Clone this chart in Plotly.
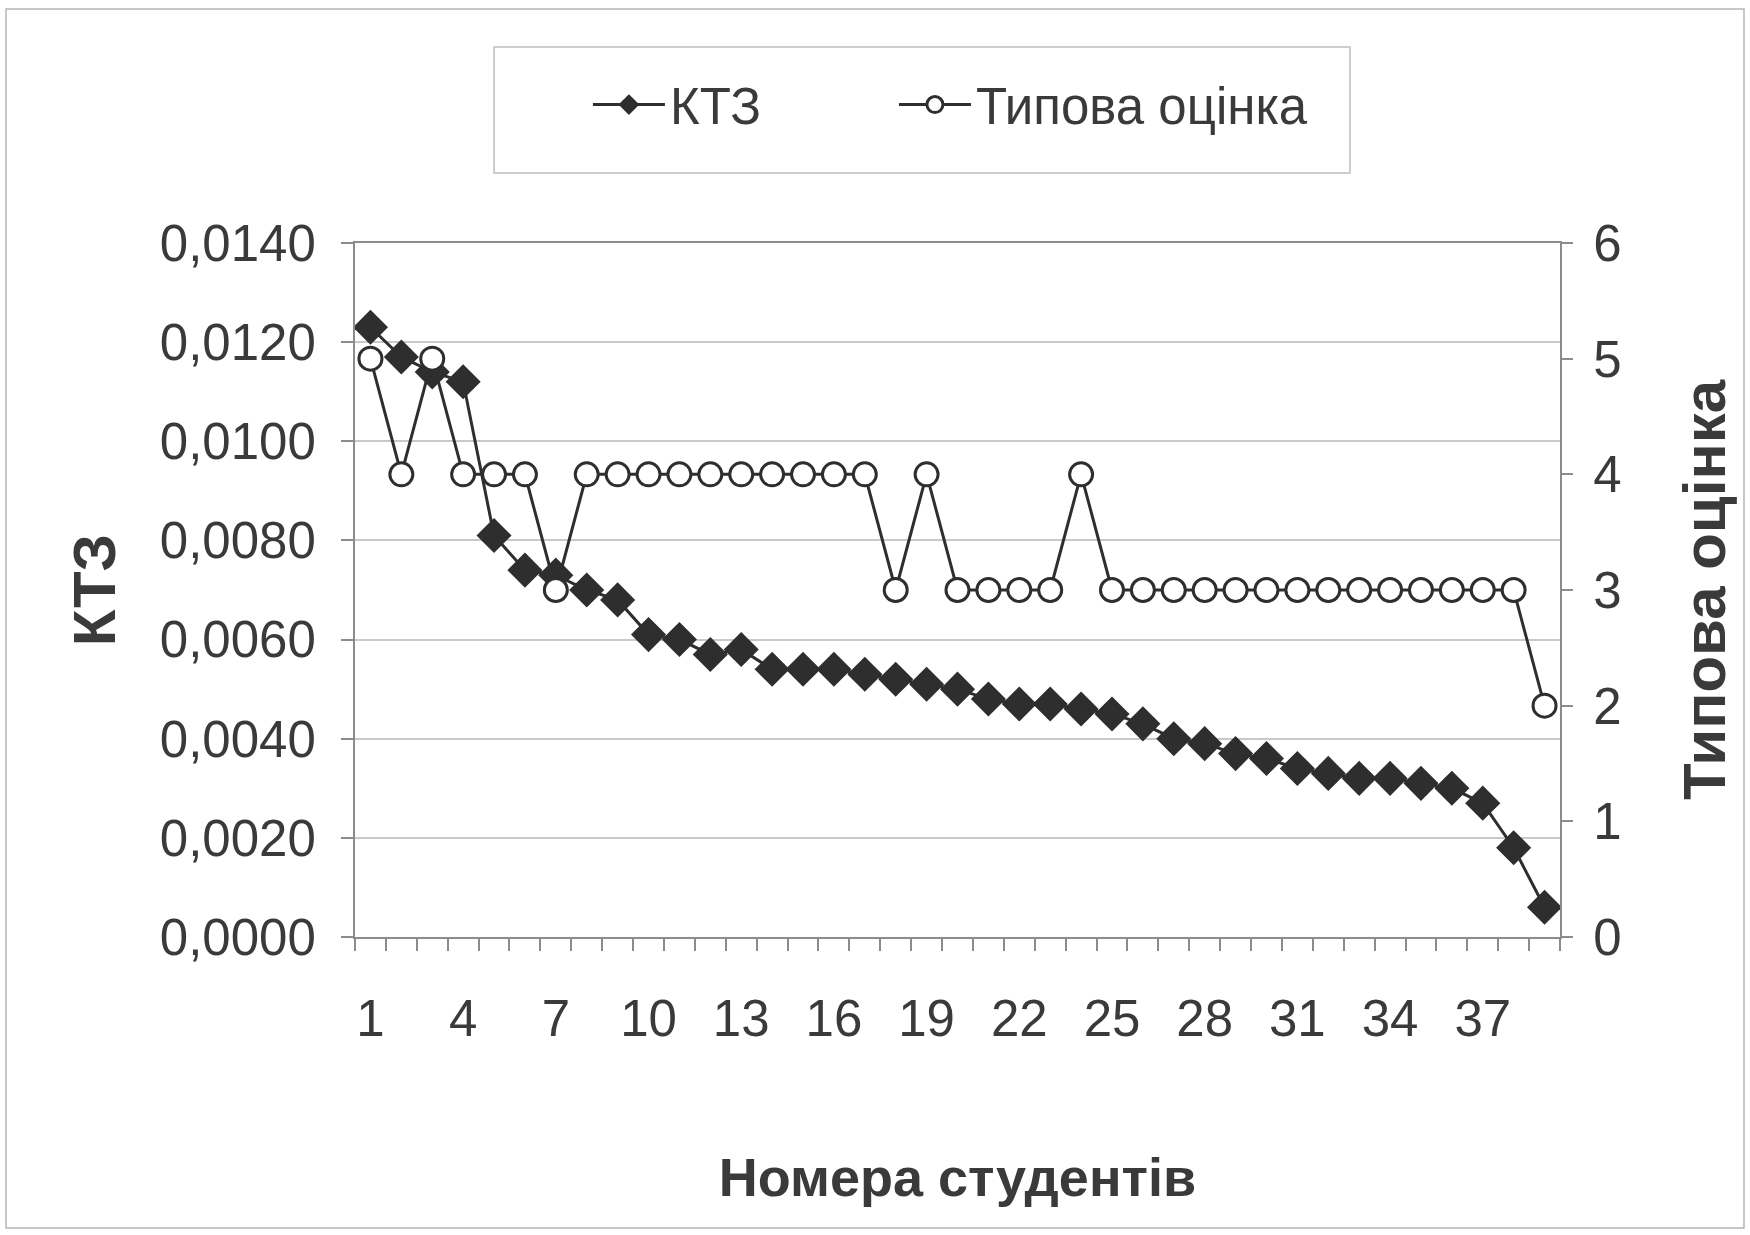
import plotly.graph_objects as go

# Student numbers (x categories)
students = list(range(1, 40))

# КТЗ coefficient per student (left axis)
ktz = [0.0123, 0.0117, 0.0114, 0.0112, 0.0081, 0.0074, 0.0073, 0.0070, 0.0068,
       0.0061, 0.0060, 0.0057, 0.0058, 0.0054, 0.0054, 0.0054, 0.0053, 0.0052,
       0.0051, 0.0050, 0.0048, 0.0047, 0.0047, 0.0046, 0.0045, 0.0043, 0.0040,
       0.0039, 0.0037, 0.0036, 0.0034, 0.0033, 0.0032, 0.0032, 0.0031, 0.0030,
       0.0027, 0.0018, 0.0006]

# Typical grade per student (right axis)
grades = [5, 4, 5, 4, 4, 4, 3, 4, 4, 4, 4, 4, 4, 4, 4, 4, 4, 3, 4, 3,
          3, 3, 3, 4, 3, 3, 3, 3, 3, 3, 3, 3, 3, 3, 3, 3, 3, 3, 2]

x_labels = students[::3]

TEXT = "#3a3a3a"
INK = "#2e2e2e"
AXIS = "#8c8c8c"
FONT = "Liberation Sans, Arial, sans-serif"

fig = go.Figure()

fig.add_trace(go.Scatter(
    x=students, y=ktz, name="КТЗ", mode="lines+markers",
    line=dict(color=INK, width=3),
    marker=dict(symbol="diamond", size=27, color=INK, line=dict(width=0)),
    yaxis="y", legendwidth=219,
))

fig.add_trace(go.Scatter(
    x=students, y=grades, name="Типова оцінка", mode="lines+markers",
    line=dict(color=INK, width=3),
    marker=dict(symbol="circle", size=23, color="white",
                line=dict(color=INK, width=3)),
    yaxis="y2", legendwidth=420,
))

title_font_v = dict(family=FONT, size=60, color=TEXT, weight="bold")

fig.update_layout(
    width=1750, height=1235,
    margin=dict(l=355, r=190, t=243, b=298),
    paper_bgcolor="white", plot_bgcolor="white",
    separators=", ",
    font=dict(family=FONT, size=51, color=TEXT),
    showlegend=True,
    legend=dict(
        orientation="h", x=0.1933, xanchor="left", y=1.199, yanchor="middle",
        bgcolor="rgba(0,0,0,0)", borderwidth=0, itemwidth=72,
        font=dict(family=FONT, size=51, color=TEXT),
    ),
    xaxis=dict(
        range=[0.5, 39.5], tickmode="array", tickvals=x_labels,
        ticks="", showgrid=False, zeroline=False,
        showline=True, linecolor=AXIS, linewidth=2, mirror=True,
        minor=dict(ticks="outside", tick0=0.5, dtick=1, ticklen=12,
                   tickcolor=AXIS, tickwidth=1.5, showgrid=False),
        ticklabelstandoff=36,
        title=dict(text="Номера студентів", standoff=112,
                   font=dict(family=FONT, size=54, color=TEXT, weight="bold")),
    ),
    yaxis=dict(
        range=[0, 0.014], dtick=0.002, tick0=0, tickformat=".4f",
        ticks="outside", ticklen=12, tickcolor=AXIS, tickwidth=1.5,
        showgrid=True, gridcolor="#c9c9c9", gridwidth=1.5, zeroline=False,
        showline=True, linecolor=AXIS, linewidth=2, mirror=True,
        ticklabelstandoff=15,
        title=dict(text="КТЗ", standoff=25, font=title_font_v),
    ),
    yaxis2=dict(
        overlaying="y", side="right", range=[0, 6], dtick=1, tick0=0,
        ticks="outside", ticklen=12, tickcolor=AXIS, tickwidth=1.5,
        showgrid=False, zeroline=False, showline=False,
        ticklabelstandoff=10,
        title=dict(text="Типова оцінка", standoff=62, font=title_font_v),
    ),
    shapes=[
        # legend frame
        dict(type="rect", xref="paper", yref="paper",
             x0=0.1154, x1=0.8257, y0=1.1009, y1=1.2824,
             line=dict(color="#bdbdbd", width=1.5), layer="below"),
        # outer chart frame
        dict(type="rect", xref="paper", yref="paper",
             x0=-0.2896, x1=1.1527, y0=-0.4193, y1=1.3372,
             line=dict(color="#b5b5b5", width=1.5), layer="below"),
    ],
)

fig.write_html("out.html")
